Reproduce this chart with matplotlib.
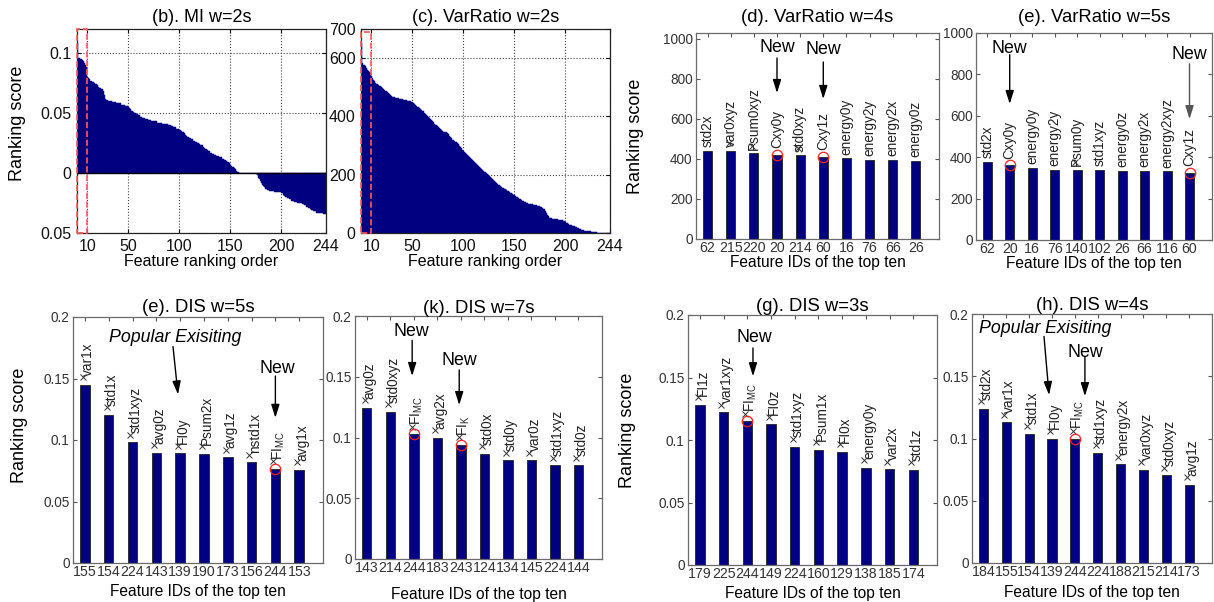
import matplotlib
matplotlib.use('Agg')
import matplotlib.pyplot as plt
import matplotlib.transforms as mtransforms
from matplotlib.patches import Rectangle
import numpy as np

plt.rcParams['font.family'] = ['Liberation Sans', 'DejaVu Sans']

NAVY = '#000080'
FIG_W, FIG_H = 1214, 602

FI_MC = r'FI$_\mathregular{MC}$'
FI_K = r'FI$_\mathregular{K}$'

# ---- (b) MI w=2s, all 244 features in ranking order (x1e-3) ----
mi_scores = np.array([
    108, 96, 96, 95, 95, 94, 93, 92, 90, 88,
    80, 79, 78, 77, 77, 76, 76, 75, 74, 74,
    73, 72, 71, 71, 70, 68, 65, 62, 61, 61,
    60, 60, 60, 60, 59, 59, 59, 59, 58, 58,
    58, 58, 58, 57, 57, 57, 57, 56, 56, 56,
    55, 54, 53, 52, 52, 51, 50, 50, 49, 49,
    48, 48, 47, 47, 46, 46, 46, 45, 45, 45,
    44, 44, 44, 43, 43, 43, 43, 43, 42, 42,
    42, 42, 42, 41, 41, 41, 41, 41, 41, 40,
    40, 40, 39, 39, 38, 38, 38, 37, 37, 37,
    36, 36, 35, 34, 34, 33, 32, 31, 30, 30,
    29, 29, 28, 28, 27, 27, 26, 26, 25, 25,
    24, 23, 23, 22, 21, 20, 20, 19, 18, 18,
    17, 17, 16, 16, 15, 15, 14, 14, 14, 13,
    13, 13, 12, 12, 11, 11, 10, 9, 9, 8,
    7, 6, 5, 5, 4, 3, 2, 1, 1, 0,
    0, 0, 0, 0, 0, 0, 0, 0, 0, 0,
    0, 0, 0, 0, 0, -1, -2, -4, -5, -7,
    -8, -10, -11, -12, -13, -13, -14, -14, -15, -15,
    -15, -15, -15, -16, -16, -16, -16, -16, -16, -16,
    -17, -17, -18, -19, -20, -20, -21, -21, -22, -22,
    -23, -23, -23, -24, -24, -24, -25, -25, -25, -25,
    -26, -26, -27, -27, -28, -28, -29, -29, -30, -31,
    -31, -32, -32, -32, -33, -33, -33, -33, -33, -33,
    -33, -34, -34, -34]) / 1000.0

# ---- (c) VarRatio w=2s, all 244 features ----
varratio_scores = np.array([
    651, 583, 578, 575, 572, 565, 560, 556, 552, 549,
    540, 531, 525, 520, 514, 512, 510, 507, 505, 503,
    500, 497, 493, 490, 486, 483, 479, 476, 472, 469,
    467, 466, 465, 464, 463, 462, 462, 461, 461, 460,
    459, 458, 457, 456, 455, 454, 453, 452, 452, 451,
    448, 446, 443, 440, 437, 434, 431, 429, 426, 423,
    420, 417, 413, 410, 406, 403, 399, 396, 392, 389,
    384, 380, 375, 371, 366, 363, 359, 356, 352, 349,
    348, 347, 346, 345, 343, 338, 334, 329, 325, 320,
    318, 316, 313, 311, 309, 304, 300, 295, 291, 286,
    283, 279, 276, 272, 269, 265, 262, 258, 255, 251,
    248, 244, 241, 237, 234, 231, 227, 224, 220, 217,
    214, 210, 207, 203, 200, 197, 193, 190, 186, 183,
    180, 176, 173, 169, 166, 164, 161, 159, 156, 154,
    152, 150, 147, 145, 143, 141, 138, 136, 133, 131,
    129, 127, 124, 122, 120, 118, 116, 113, 111, 109,
    107, 106, 104, 103, 101, 100, 99, 99, 98, 97,
    96, 95, 94, 92, 91, 89, 88, 86, 84, 82,
    76, 70, 63, 58, 51, 50, 50, 49, 49, 48,
    48, 47, 47, 46, 46, 45, 44, 43, 42, 40,
    38, 36, 33, 31, 29, 28, 27, 25, 24, 23,
    21, 19, 17, 16, 14, 13, 12, 10, 9, 8,
    7, 7, 6, 6, 6, 5, 5, 4, 4, 3,
    2, 0, 0, 0, 0, 0, 0, 0, 0, 0,
    0, 0, 0, 0])

rank_ticks = [10, 50, 100, 150, 200, 244]

# ---- (d) VarRatio w=4s ----
vr4_ids = ['62', '215', '220', '20', '214', '60', '16', '76', '66', '26']
vr4_vals = [442, 442, 428, 422, 418, 408, 405, 396, 396, 391]
vr4_names = ['std2x', 'var0xyz', 'Psum0xyz', 'Cxy0y', 'std0xyz', 'Cxy1z',
             'energy0y', 'energy2y', 'energy2x', 'energy0z']
vr4_new = [4, 6]
vr4_cross = [2, 3, 5]

# ---- (e) VarRatio w=5s ----
vr5_ids = ['62', '20', '16', '76', '140', '102', '26', '66', '116', '60']
vr5_vals = [379, 360, 348, 340, 340, 340, 335, 335, 332, 324]
vr5_names = ['std2x', 'Cxy0y', 'energy0y', 'energy2y', 'Psum0y', 'std1xyz',
             'energy0z', 'energy2x', 'energy2xyz', 'Cxy1z']
vr5_new = [2, 10]
vr5_cross = [5]

# ---- (e) DIS w=5s ----
dis5_ids = ['155', '154', '224', '143', '139', '190', '173', '156', '244', '153']
dis5_vals = [0.145, 0.1205, 0.098, 0.0897, 0.0892, 0.0886, 0.0859, 0.0819, 0.0765, 0.0757]
dis5_names = ['var1x', 'std1x', 'std1xyz', 'avg0z', 'FI0y', 'Psum2x', 'avg1z',
              'nstd1x', FI_MC, 'avg1x']
dis5_new = [9]

# ---- (k) DIS w=7s ----
dis7_ids = ['143', '214', '244', '183', '243', '124', '134', '145', '224', '144']
dis7_vals = [0.1245, 0.1209, 0.1025, 0.0997, 0.0942, 0.0868, 0.0813, 0.0813, 0.0772, 0.0772]
dis7_names = ['avg0z', 'std0xyz', FI_MC, 'avg2x', FI_K, 'std0x', 'std0y', 'var0z',
              'std1xyz', 'std0z']
dis7_new = [3, 5]

# ---- (g) DIS w=3s ----
dis3_ids = ['179', '225', '244', '149', '224', '160', '129', '138', '185', '174']
dis3_vals = [0.128, 0.1221, 0.1149, 0.1125, 0.0948, 0.0923, 0.0907, 0.0779, 0.0765, 0.076]
dis3_names = ['FI1z', 'var1xyz', FI_MC, 'FI0z', 'std1xyz', 'Psum1x', 'FI0x',
              'energy0y', 'var2x', 'std1z']
dis3_new = [3]

# ---- (h) DIS w=4s ----
dis4_ids = ['184', '155', '154', '139', '244', '224', '188', '215', '214', '173']
dis4_vals = [0.1238, 0.113, 0.104, 0.100, 0.100, 0.0886, 0.0792, 0.0751, 0.0703, 0.0627]
dis4_names = ['std2x', 'var1x', 'std1x', 'FI0y', FI_MC, 'std1xyz', 'energy2x',
              'var0xyz', 'std0xyz', 'avg1z']
dis4_new = [5]

dis_ticks = [0, 0.05, 0.1, 0.15, 0.2]
dis_ticklabels = ['0', '0.05', '0.1', '0.15', '0.2']
vr_ticks = [0, 200, 400, 600, 800, 1000]


def add_axes_px(fig, left, top, right, bottom):
    return fig.add_axes([left / FIG_W, 1 - bottom / FIG_H,
                         (right - left) / FIG_W, (bottom - top) / FIG_H])


def arrow(ax, tail, tip, color='k'):
    ax.annotate('', xy=tip, xytext=tail,
                arrowprops=dict(arrowstyle='-|>,head_length=0.8,head_width=0.25',
                                color=color, lw=1.0, shrinkA=0, shrinkB=0))


def draw_ranking(ax, scores, ylim, yticks, yticklabels, box_top, title):
    n = len(scores)
    ax.bar(np.arange(n), scores, width=1, align='edge', color=NAVY,
           edgecolor=NAVY, linewidth=0.3, zorder=2)
    ax.set_xlim(0, n)
    ax.set_ylim(*ylim)
    ax.set_xticks(rank_ticks)
    ax.set_yticks(yticks)
    ax.set_yticklabels(yticklabels)
    ax.grid(True, ls=':', color='#444444', lw=0.8)
    ax.set_axisbelow(True)
    ax.add_patch(Rectangle((0, ylim[0]), 10, box_top - ylim[0], fill=False,
                           ls='--', ec='#ff5a5a', lw=1.2, zorder=5, clip_on=False))
    ax.tick_params(direction='in', length=3, top=True, right=True,
                   labelsize=11.5, pad=4, colors='#111111')
    for s in ax.spines.values():
        s.set_color('#222222')
        s.set_linewidth(0.9)
    ax.set_title(title, fontsize=13, pad=5)
    ax.set_xlabel('Feature ranking order', fontsize=11.5)
    ax.xaxis.set_label_coords(0.5, -0.105)


def draw_top_ten(fig, ax, ids, vals, names, new_pos, cross_pos, ylim, yticks,
                 yticklabels, dis, title, title_pad):
    x = np.arange(1, len(vals) + 1)
    ax.bar(x, vals, width=0.4, color=NAVY, edgecolor='#222222', linewidth=0.6, zorder=2)
    ax.set_xlim(0.5, 11)
    ax.set_ylim(*ylim)
    ax.set_xticks(x)
    ax.set_xticklabels(ids)
    ax.set_yticks(yticks)
    ax.set_yticklabels(yticklabels)
    ax.tick_params(direction='in', length=3, top=True, right=True,
                   labelsize=9.8, pad=2.5, color='#555555', labelcolor='#333333')
    ax.tick_params(axis='x', labelsize=10.2, pad=1.5)
    for s in ax.spines.values():
        s.set_color('#6a6a6a')
        s.set_linewidth(0.9)

    for i, (xi, v, name) in enumerate(zip(x, vals, names)):
        pos = i + 1
        if dis:
            off = (2.2, 6.5)
        elif pos in new_pos:
            off = (0, 5)
        else:
            off = (0, 2.5)
        ax.annotate(name, (xi, v), xytext=off, textcoords='offset points',
                    rotation=90, ha='center', va='bottom', fontsize=9.8,
                    color='#222222', zorder=6)

    cross = list(x) if dis else cross_pos
    if cross:
        tr = mtransforms.offset_copy(ax.transData, fig=fig, x=-1.5, y=5.5, units='points')
        cx = [x[p - 1] for p in cross]
        cy = [vals[p - 1] for p in cross]
        ax.plot(cx, cy, 'x', transform=tr, ms=4, mew=0.7, color='#333333',
                zorder=6, clip_on=False)

    nx = [x[p - 1] for p in new_pos]
    ny = [vals[p - 1] for p in new_pos]
    ax.plot(nx, ny, 'o', mfc='none', mec='#ff2020', ms=7.5, mew=0.9, zorder=7)

    ax.set_title(title, fontsize=13.3, pad=title_pad)
    ax.set_xlabel('Feature IDs of the top ten', fontsize=11.2)


fig = plt.figure(figsize=(FIG_W / 100, FIG_H / 100), dpi=100)

# top row
ax_b = add_axes_px(fig, 77, 29, 326, 233)
draw_ranking(ax_b, mi_scores, (-0.05, 0.12), [-0.05, 0, 0.05, 0.1],
             ['0.05', '0', '0.05', '0.1'], 0.12, '(b). MI w=2s')
ax_b.axhline(0, color='k', lw=1.0, zorder=3)
ax_b.set_ylabel('Ranking score', fontsize=13)
ax_b.yaxis.set_label_coords(-0.205, 0.54)

ax_c = add_axes_px(fig, 361, 29, 610, 233)
draw_ranking(ax_c, varratio_scores, (0, 700), [0, 200, 400, 600, 700],
             ['0', '200', '400', '600', '700'], 690, '(c). VarRatio w=2s')

ax_d = add_axes_px(fig, 696, 33, 939, 239)
draw_top_ten(fig, ax_d, vr4_ids, vr4_vals, vr4_names, vr4_new, vr4_cross,
             (0, 1030), vr_ticks, [str(t) for t in vr_ticks], False,
             '(d). VarRatio w=4s', 8)
ax_d.set_ylabel('Ranking score', fontsize=13)
ax_d.yaxis.set_label_coords(-0.215, 0.5)
ax_d.xaxis.set_label_coords(0.5, -0.078)
for tx, ty in [(4, 955), (6, 950)]:
    ax_d.text(tx, ty, 'New', fontsize=12.8, ha='center', va='center')
arrow(ax_d, (4, 905), (4, 730))
arrow(ax_d, (6, 885), (6, 700))

ax_e = add_axes_px(fig, 976, 33, 1212, 240)
draw_top_ten(fig, ax_e, vr5_ids, vr5_vals, vr5_names, vr5_new, vr5_cross,
             (0, 1000), vr_ticks, [str(t) for t in vr_ticks], False,
             '(e). VarRatio w=5s', 8)
ax_e.xaxis.set_label_coords(0.5, -0.078)
ax_e.text(2, 924, 'New', fontsize=12.8, ha='center', va='center')
ax_e.text(10, 895, 'New', fontsize=12.8, ha='center', va='center')
arrow(ax_e, (2, 895), (2, 657))
arrow(ax_e, (10, 851), (10, 584), color='#555555')

# bottom row
ax_e2 = add_axes_px(fig, 73, 317, 323, 563)
draw_top_ten(fig, ax_e2, dis5_ids, dis5_vals, dis5_names, dis5_new, [],
             (0, 0.2), dis_ticks, dis_ticklabels, True, '(e). DIS w=5s', 3.5)
ax_e2.set_ylabel('Ranking score', fontsize=13)
ax_e2.yaxis.set_label_coords(-0.18, 0.56)
ax_e2.xaxis.set_label_coords(0.5, -0.085)
ax_e2.text(4.79, 0.183, 'Popular Exisiting', fontsize=12.8, style='italic',
           ha='center', va='center')
arrow(ax_e2, (4.70, 0.176), (4.91, 0.137))
ax_e2.text(9.07, 0.1585, 'New', fontsize=12.8, ha='center', va='center')
arrow(ax_e2, (9, 0.152), (9, 0.118))

ax_k = add_axes_px(fig, 355, 316, 602, 559)
draw_top_ten(fig, ax_k, dis7_ids, dis7_vals, dis7_names, dis7_new, [],
             (0, 0.2), dis_ticks, dis_ticklabels, True, '(k). DIS w=7s', 2.5)
ax_k.xaxis.set_label_coords(0.5, -0.115)
ax_k.text(2.9, 0.187, 'New', fontsize=12.8, ha='center', va='center')
arrow(ax_k, (2.93, 0.180), (2.93, 0.1506))
ax_k.text(4.93, 0.163, 'New', fontsize=12.8, ha='center', va='center')
arrow(ax_k, (4.93, 0.1556), (4.93, 0.1267))

ax_g = add_axes_px(fig, 688, 315, 937, 565)
draw_top_ten(fig, ax_g, dis3_ids, dis3_vals, dis3_names, dis3_new, [],
             (0, 0.2), dis_ticks, dis_ticklabels, True, '(g). DIS w=3s', 3)
ax_g.set_ylabel('Ranking score', fontsize=13)
ax_g.yaxis.set_label_coords(-0.21, 0.54)
ax_g.xaxis.set_label_coords(0.5, -0.084)
ax_g.text(3.28, 0.1816, 'New', fontsize=12.8, ha='center', va='center')
arrow(ax_g, (3.24, 0.1736), (3.24, 0.151))

ax_h = add_axes_px(fig, 972, 314, 1212, 563)
draw_top_ten(fig, ax_h, dis4_ids, dis4_vals, dis4_names, dis4_new, [],
             (0, 0.2), dis_ticks, dis_ticklabels, True, '(h). DIS w=4s', 3)
ax_h.xaxis.set_label_coords(0.5, -0.088)
ax_h.text(3.69, 0.1887, 'Popular Exisiting', fontsize=12.8, style='italic',
          ha='center', va='center')
arrow(ax_h, (3.65, 0.182), (3.87, 0.1349))
ax_h.text(5.44, 0.1694, 'New', fontsize=12.8, ha='center', va='center')
arrow(ax_h, (5.44, 0.1654), (5.44, 0.134))

fig.savefig('out.png', dpi=100)
